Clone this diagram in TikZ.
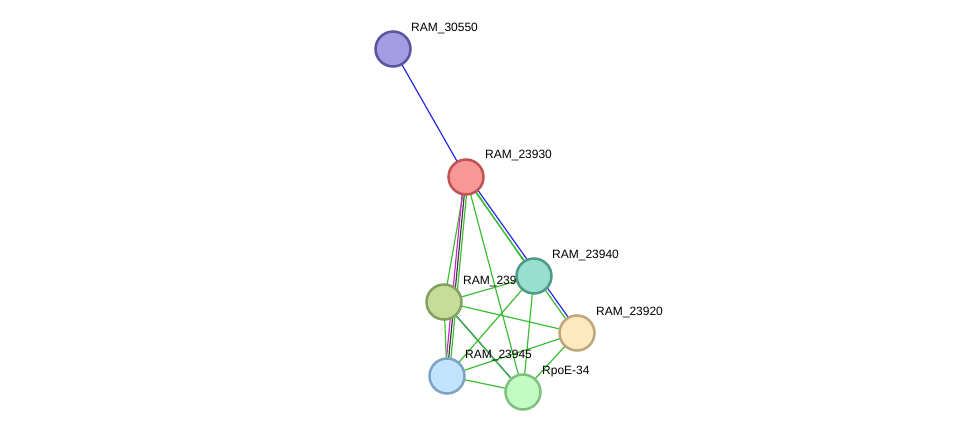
\documentclass[tikz,border=0pt]{standalone}
\usepackage{fontspec}
\setmainfont{Liberation Sans}
\begin{document}
\begin{tikzpicture}[x=1pt,y=-1pt,
 prot/.style={circle,minimum size=35pt,inner sep=0pt,line width=2.5pt},
 lab/.style={anchor=south west,inner sep=0pt,font=\fontsize{12}{12}\selectfont},
 g/.style={draw=green!70!black!80!white,line width=1.2pt,color={rgb,255:red,60;green,190;blue,50}},
 b/.style={line width=1.2pt,color={rgb,255:red,40;green,40;blue,230}},
 m/.style={line width=1.2pt,color={rgb,255:red,200;green,40;blue,200}},
 k/.style={line width=1.2pt,color={rgb,255:red,60;green,60;blue,60}}]
\useasboundingbox (0,0) rectangle (975,438);
\coordinate (c1) at (393,49);
\coordinate (c2) at (466,177);
\coordinate (c3) at (534,276);
\coordinate (c4) at (444,302);
\coordinate (c5) at (577,333);
\coordinate (c6) at (447,376);
\coordinate (c7) at (523,392);
% edges
\draw[b] (c1) -- (c2);
\draw[b,transform canvas={shift={(1.6pt,1.2pt)}}] (c2) -- (c5);
\draw[g,transform canvas={shift={(-0.8pt,-0.6pt)}}] (c2) -- (c5);
\draw[g] (c2) -- (c3);
\draw[g] (c2) -- (c4);
\draw[m,transform canvas={shift={(-2.2pt,0pt)}}] (c2) -- (c6);
\draw[k,transform canvas={shift={(0pt,0pt)}}] (c2) -- (c6);
\draw[g,transform canvas={shift={(2.2pt,0pt)}}] (c2) -- (c6);
\draw[g] (c2) -- (c7);
\draw[g] (c4) -- (c3);
\draw[g] (c4) -- (c5);
\draw[b,transform canvas={shift={(1pt,-1pt)}}] (c4) -- (c7);
\draw[g,transform canvas={shift={(-1pt,1pt)}}] (c4) -- (c7);
\draw[g] (c4) -- (c6);
\draw[g] (c3) -- (c6);
\draw[g] (c3) -- (c7);
\draw[g] (c5) -- (c6);
\draw[g] (c5) -- (c7);
\draw[g] (c6) -- (c7);
% labels and nodes
\node[lab] (l1) at (411,34) {RAM\_30550};
\node[lab] (l2) at (485,161) {RAM\_23930};
\node[lab] (l4) at (463,287) {RAM\_23935};
\node[lab] (l5) at (596,318) {RAM\_23920};
\node[lab] (l6) at (465,361) {RAM\_23945};
\node[lab] (l7) at (542,377) {RpoE-34};
\node[prot,fill={rgb,255:red,163;green,156;blue,226},draw={rgb,255:red,91;green,85;blue,160}] (n1) at (c1) {};
\node[prot,fill={rgb,255:red,249;green,150;blue,150},draw={rgb,255:red,192;green,84;blue,84}] (n2) at (c2) {};
\node[prot,fill={rgb,255:red,197;green,221;blue,152},draw={rgb,255:red,131;green,160;blue,96}] (n4) at (c4) {};
\node[prot,fill={rgb,255:red,253;green,232;blue,192},draw={rgb,255:red,188;green,168;blue,120}] (n5) at (c5) {};
\node[prot,fill={rgb,255:red,194;green,227;blue,252},draw={rgb,255:red,124;green,163;blue,196}] (n6) at (c6) {};
\node[prot,fill={rgb,255:red,194;green,252;blue,194},draw={rgb,255:red,126;green,192;blue,126}] (n7) at (c7) {};
\node[prot,fill={rgb,255:red,153;green,222;blue,206},draw={rgb,255:red,78;green,154;blue,136}] (n3) at (c3) {};
\node[lab] (l3) at (552,261) {RAM\_23940};
\end{tikzpicture}
\end{document}
